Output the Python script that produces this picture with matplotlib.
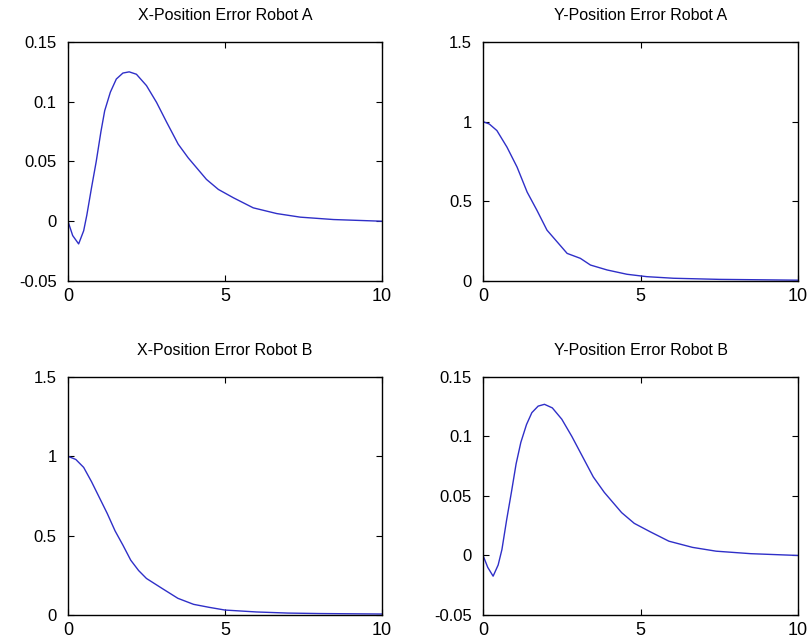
import numpy as np
import matplotlib
matplotlib.use('Agg')
import matplotlib.pyplot as plt

plt.rcParams['font.family'] = ['Liberation Sans', 'DejaVu Sans']

# values
t_xa = [0, 0.15, 0.34, 0.5, 0.6, 0.75, 0.9, 1.05, 1.17, 1.35, 1.54, 1.75, 1.95,
        2.18, 2.5, 2.82, 3.14, 3.51, 3.83, 4.41, 4.79, 5.27, 5.9, 6.65, 7.4, 8.46, 10]
x_err_a = [0, -0.012, -0.019, -0.008, 0.005, 0.028, 0.05, 0.075, 0.0925, 0.108, 0.119,
           0.124, 0.125, 0.123, 0.1135, 0.0995, 0.083, 0.0645, 0.053, 0.035, 0.0266,
           0.0196, 0.0112, 0.0064, 0.0034, 0.0014, 0.0]

t_ya = [0, 0.2, 0.44, 0.76, 1.08, 1.4, 1.71, 2.03, 2.35, 2.67, 3.09, 3.41, 3.94,
        4.57, 5.2, 6.05, 7.5, 10]
y_err_a = [1.0, 0.985, 0.944, 0.84, 0.715, 0.558, 0.444, 0.319, 0.246, 0.173, 0.142,
           0.1, 0.069, 0.042, 0.027, 0.017, 0.01, 0.005]

t_xb = [0, 0.25, 0.5, 0.75, 1.0, 1.25, 1.5, 1.75, 2.0, 2.25, 2.5, 3.0, 3.5, 4.0,
        4.5, 5.0, 6.0, 7.0, 8.0, 10]
x_err_b = [1.0, 0.98, 0.93, 0.84, 0.74, 0.64, 0.53, 0.44, 0.345, 0.28, 0.23, 0.167,
           0.105, 0.067, 0.048, 0.031, 0.019, 0.012, 0.009, 0.006]

t_yb = [0, 0.15, 0.32, 0.48, 0.6, 0.75, 0.9, 1.05, 1.2, 1.38, 1.55, 1.75, 1.95,
        2.2, 2.5, 2.82, 3.14, 3.5, 3.85, 4.4, 4.8, 5.3, 5.9, 6.65, 7.4, 8.5, 10]
y_err_b = [0, -0.01, -0.0174, -0.008, 0.005, 0.03, 0.053, 0.077, 0.095, 0.11, 0.12,
           0.1255, 0.127, 0.124, 0.1145, 0.1, 0.084, 0.066, 0.053, 0.036, 0.027,
           0.02, 0.012, 0.0068, 0.0036, 0.0015, 0.0]

small_ticks = [-0.05, 0, 0.05, 0.1, 0.15]
small_labels = ['-0.05', '0', '0.05', '0.1', '0.15']
big_ticks = [0, 0.5, 1, 1.5]
big_labels = ['0', '0.5', '1', '1.5']

panels = [
    ('X-Position Error Robot A', t_xa, x_err_a, (-0.05, 0.15), small_ticks, small_labels),
    ('Y-Position Error Robot A', t_ya, y_err_a, (0, 1.5), big_ticks, big_labels),
    ('X-Position Error Robot B', t_xb, x_err_b, (0, 1.5), big_ticks, big_labels),
    ('Y-Position Error Robot B', t_yb, y_err_b, (-0.05, 0.15), small_ticks, small_labels),
]

rects = [
    [0.0838, 0.5603, 0.3872, 0.374],
    [0.5956, 0.5603, 0.3884, 0.374],
    [0.0838, 0.0376, 0.3872, 0.3725],
    [0.5956, 0.0376, 0.3884, 0.3725],
]

fig = plt.figure(figsize=(8.11, 6.39), dpi=100)
for (title, t, v, ylim, yt, ytl), rect in zip(panels, rects):
    ax = fig.add_axes(rect)
    ax.plot(t, v, color='#2f2fc8', linewidth=1.0)
    ax.set_xlim(0, 10)
    ax.set_ylim(*ylim)
    ax.set_xticks([0, 5, 10])
    ax.set_xticklabels(['0', '5', '10'])
    ax.set_yticks(yt)
    ax.set_yticklabels(ytl)
    ax.tick_params(direction='in', top=True, right=True, length=4, width=0.8)
    ax.tick_params(axis='x', labelsize=13, pad=5)
    ax.tick_params(axis='y', labelsize=12, pad=8)
    for s in ax.spines.values():
        s.set_linewidth(1.0)
    ax.set_title(title, fontsize=11.5, pad=16)

fig.savefig('out.png', dpi=100)
